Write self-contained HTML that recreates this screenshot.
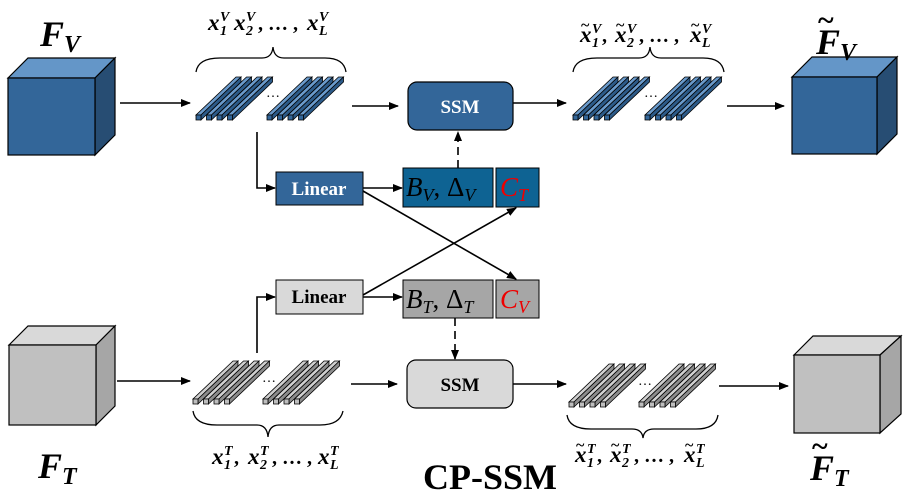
<!DOCTYPE html>
<html><head><meta charset="utf-8"><style>
html,body{margin:0;padding:0;background:#fff;width:908px;height:494px;overflow:hidden}
svg text{font-family:"Liberation Serif",serif;}
</style></head><body>
<svg id="s" width="908" height="494" viewBox="0 0 908 494" xmlns="http://www.w3.org/2000/svg">
<defs>
<marker id="ah" markerWidth="10" markerHeight="8" refX="9" refY="4" orient="auto" markerUnits="userSpaceOnUse"><path d="M0,0 L10,4 L0,8 z" fill="#000"/></marker>
</defs>
<g stroke="#000" stroke-width="1.2">
<polygon points="8,78 28,58 115,58 95,78" fill="#6496c8"/>
<polygon points="95,78 115,58 115,135 95,155" fill="#274d73"/>
<rect x="8" y="78" width="87" height="77" fill="#336699"/>
<polygon points="792,77 812,57 897,57 877,77" fill="#6496c8"/>
<polygon points="877,77 897,57 897,134 877,154" fill="#274d73"/>
<rect x="792" y="77" width="85" height="77" fill="#336699"/>
<polygon points="9,345 28,326 115,326 96,345" fill="#d9d9d9"/>
<polygon points="96,345 115,326 115,406 96,425" fill="#a6a6a6"/>
<rect x="9" y="345" width="87" height="80" fill="#c0c0c0"/>
<polygon points="794,355 813,336 901,336 880,355" fill="#d9d9d9"/>
<polygon points="880,355 901,336 901,414 880,433" fill="#a6a6a6"/>
<rect x="794" y="355" width="86" height="78" fill="#c0c0c0"/>
</g>
<g id="strips"></g>
<g fill="none" stroke="#000" stroke-width="1.3">
<path d="M196,72 Q198,58 220,58 L262,58 Q272,58 273,47 Q274,58 284,58 L325,58 Q344,58 346,72"/>
<path d="M573,72 Q575,58 597,58 L639,58 Q649,58 650,47 Q651,58 661,58 L703,58 Q722,58 724,72"/>
<path d="M193,411 Q195,425 217,425 L257,425 Q267,425 268,437 Q269,425 279,425 L320,425 Q340,425 343,411"/>
<path d="M567,415 Q569,429 591,429 L632,429 Q642,429 643,438 Q644,429 654,429 L696,429 Q716,429 718,415"/>
</g>
<rect x="408" y="82" width="105" height="48" rx="9" fill="#336699" stroke="#000" stroke-width="1.2"/>
<text x="460" y="113" font-size="19" font-weight="bold" fill="#fff" text-anchor="middle">SSM</text>
<rect x="407" y="360" width="106" height="48" rx="9" fill="#d9d9d9" stroke="#000" stroke-width="1.2"/>
<text x="460" y="391" font-size="19" font-weight="bold" fill="#000" text-anchor="middle">SSM</text>
<rect x="276" y="172" width="87" height="33" fill="#336699" stroke="#000" stroke-width="1"/>
<text x="319" y="195" font-size="19" font-weight="bold" fill="#fff" text-anchor="middle">Linear</text>
<rect x="276" y="280" width="87" height="34" fill="#d9d9d9" stroke="#000" stroke-width="1"/>
<text x="319" y="303" font-size="19" font-weight="bold" fill="#000" text-anchor="middle">Linear</text>
<rect x="403" y="168" width="90" height="39" fill="#0e6393" stroke="#000" stroke-width="1"/>
<rect x="496" y="168" width="43" height="39" fill="#0e6393" stroke="#000" stroke-width="1"/>
<rect x="403" y="280" width="90" height="38" fill="#a6a6a6" stroke="#000" stroke-width="1"/>
<rect x="496" y="280" width="43" height="38" fill="#a6a6a6" stroke="#000" stroke-width="1"/>
<g font-size="27" font-style="italic">
<text x="406" y="196">B<tspan font-size="18" dy="5">V</tspan><tspan dy="-5" font-style="normal">, Δ</tspan><tspan font-size="18" dy="5">V</tspan></text>
<text x="500" y="196" fill="#e00">C<tspan font-size="18" dy="5">T</tspan></text>
<text x="406" y="308">B<tspan font-size="18" dy="5">T</tspan><tspan dy="-5" font-style="normal">, Δ</tspan><tspan font-size="18" dy="5">T</tspan></text>
<text x="500" y="308" fill="#e00">C<tspan font-size="18" dy="5">V</tspan></text>
</g>
<g stroke="#000" stroke-width="1.6" fill="none" marker-end="url(#ah)">
<line x1="120" y1="103" x2="190" y2="103"/>
<line x1="352" y1="106" x2="398" y2="106"/>
<line x1="513" y1="103" x2="566" y2="103"/>
<line x1="727" y1="106" x2="784" y2="106"/>
<line x1="117" y1="381" x2="190" y2="381"/>
<line x1="351" y1="384" x2="397" y2="384"/>
<line x1="513" y1="384" x2="566" y2="384"/>
<line x1="719" y1="386" x2="788" y2="386"/>
<polyline points="257,132 257,188 275,188"/>
<polyline points="257,353 257,297 275,297"/>
<line x1="363" y1="188" x2="402" y2="188"/>
<line x1="363" y1="297" x2="402" y2="297"/>
<line x1="363" y1="191" x2="516" y2="279"/>
<line x1="363" y1="295" x2="516" y2="208"/>
<line x1="458" y1="168" x2="458" y2="132" stroke-dasharray="8,5"/>
<line x1="455" y1="318" x2="455" y2="359" stroke-dasharray="8,5"/>
</g>
<g font-weight="bold" font-style="italic">
<text x="40" y="46" font-size="36">F<tspan font-size="24" dy="6">V</tspan></text>
<text x="38" y="478" font-size="36">F<tspan font-size="24" dy="6">T</tspan></text>
<text x="816" y="54" font-size="36">F<tspan font-size="24" dy="6">V</tspan></text>
<text x="810" y="480" font-size="36">F<tspan font-size="24" dy="6">T</tspan></text>
</g>
<g font-weight="bold" font-size="30">
<text x="818" y="30">~</text>
<text x="812" y="456">~</text>
</g>
<g id="lbl" font-weight="bold"></g>
<text x="490" y="489" font-size="36" font-weight="bold" text-anchor="middle">CP-SSM</text>
</svg>
<script>
(function(){
var g=document.getElementById('strips'),ns='http://www.w3.org/2000/svg';
function poly(pts,fill){var p=document.createElementNS(ns,'polygon');p.setAttribute('points',pts.map(function(a){return a.join(',')}).join(' '));p.setAttribute('fill',fill);p.setAttribute('stroke','#000');p.setAttribute('stroke-width','0.8');g.appendChild(p);}
function group(x0,y0,c){
 for(var i=3;i>=0;i--){var x=x0+i*10.5,y=y0,w=5,dx=40,dy=-38;
  poly([[x,y],[x+w,y],[x+w+dx,y+dy],[x+dx,y+dy]],c[0]);
  poly([[x+w,y],[x+w,y+w],[x+w+dx,y+w+dy],[x+w+dx,y+dy]],c[1]);
  poly([[x,y],[x+w,y],[x+w,y+w],[x,y+w]],c[2]);}
}
function txt(par,x,y,s,size,italic){var t=document.createElementNS(ns,'text');t.setAttribute('x',x);t.setAttribute('y',y);t.setAttribute('font-size',size);if(italic)t.setAttribute('font-style','italic');t.textContent=s;par.appendChild(t);return t;}
function dots(x,y){txt(g,x,y,'…',14,false);}
var B=['#6a9acb','#2c5a88','#336699'],G=['#d0d0d0','#8c8c8c','#bfbfbf'];
group(196,115,B);group(267,115,B);dots(266,97);
group(573,115,B);group(645,115,B);dots(644,97);
group(193,399,G);group(263,399,G);dots(262,382);
group(569,402,G);group(639,402,G);dots(638,385);
var L=document.getElementById('lbl');
function term(X,Y,sup,sub,tilde){txt(L,X,Y,'x',23,true);txt(L,X+12,Y-9,sup,14,true);txt(L,X+12,Y+5,sub,14,true);if(tilde)txt(L,X+1,Y-12,'~',16,false);}
function label(xs,Y,sup,tilde,commaAfter1,mid){
 term(xs[0],Y,sup,'1',tilde);
 if(commaAfter1)txt(L,xs[0]+22,Y,',',20,false);
 term(xs[1],Y,sup,'2',tilde);
 txt(L,mid,Y,', … ,',20,false);
 term(xs[2],Y,sup,'L',tilde);
}
label([208,234,307],30,'V',false,false,258);
label([212,248,318],464,'T',false,true,272);
label([580,615,690],42,'V',true,true,639);
label([575,610,684],462,'T',true,true,634);
})();
</script>
</body></html>
